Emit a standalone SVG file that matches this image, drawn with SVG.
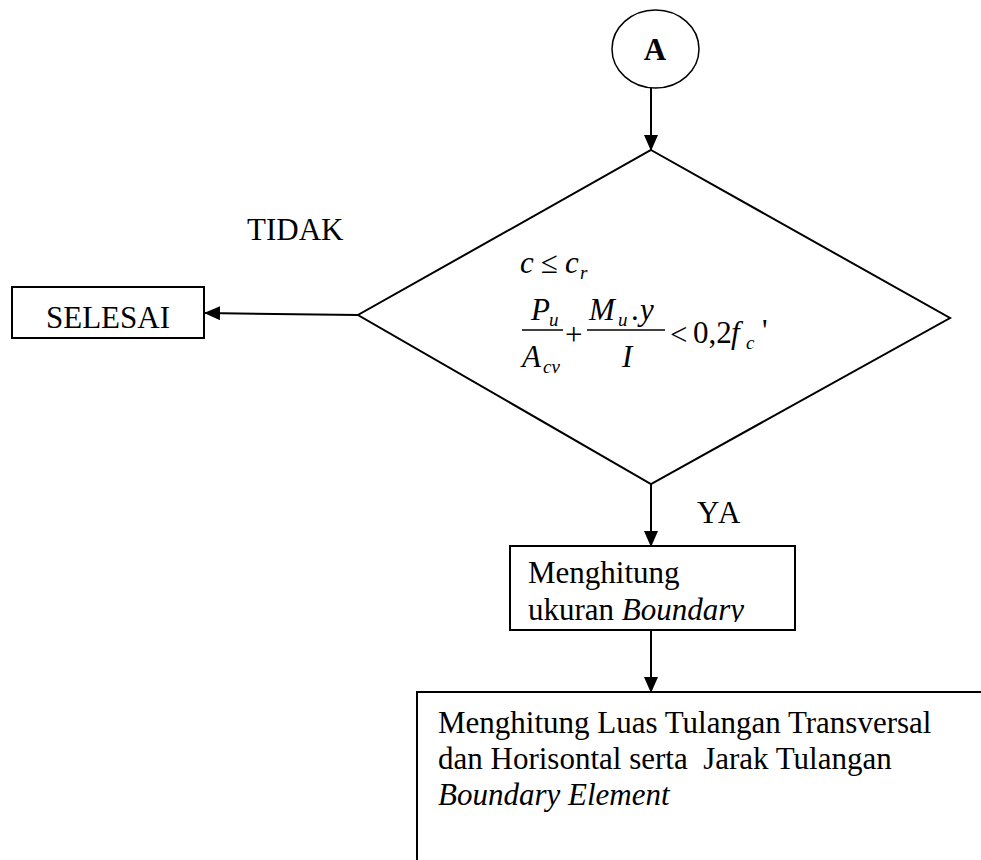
<svg xmlns="http://www.w3.org/2000/svg" width="981" height="860" viewBox="0 0 981 860">
<defs>
<marker id="ah" markerUnits="userSpaceOnUse" markerWidth="16" markerHeight="14" refX="15" refY="7" orient="auto"><path d="M0,0 L16,7 L0,14 Z" fill="#000"/></marker>
<clipPath id="clip2"><rect x="510" y="546" width="285" height="76"/></clipPath>
</defs>
<style>
.ln{stroke:#000;stroke-width:2;fill:none}
.bar{stroke:#000;stroke-width:1.5}
.t{font-family:"Liberation Serif","Times New Roman",serif;font-size:31px;fill:#000}
.i{font-style:italic}
.s{font-size:19px}
.c{stroke:#000;stroke-width:2;fill:none;marker-end:url(#ah)}
</style>
<rect width="981" height="860" fill="#fff"/>

<g id="connectors">
<line class="c" x1="651" y1="88" x2="651" y2="150"/>
<line class="c" x1="358" y1="315" x2="205" y2="313"/>
<line class="c" x1="651" y1="484" x2="651" y2="546"/>
<line class="c" x1="651" y1="630" x2="651" y2="692"/>
</g>

<g id="start">
<ellipse cx="655.5" cy="49" rx="43.5" ry="39" fill="none" stroke="#000" stroke-width="1.5"/>
<text x="655" y="60" text-anchor="middle" class="t" font-weight="bold" font-size="27">A</text>
</g>

<g id="decision">
<polygon points="651,150 950,318 651,484 358,315" class="ln"/>
<text class="t i" x="520" y="273">c</text>
<text class="t" x="541" y="273">≤</text>
<text class="t i" x="565" y="273">c</text>
<text class="t i s" x="580" y="279">r</text>
<text class="t i" x="531" y="320">P</text>
<text class="t i s" x="549" y="326">u</text>
<line class="bar" x1="522" y1="330" x2="563" y2="330"/>
<text class="t i" x="522" y="367">A</text>
<text class="t i s" x="543" y="373">cv</text>
<text class="t" x="565" y="345">+</text>
<text class="t i" x="589" y="320">M</text>
<text class="t i s" x="618" y="326">u</text>
<text class="t" x="631" y="320">.</text>
<text class="t i" x="640" y="320">y</text>
<line class="bar" x1="587" y1="330" x2="665" y2="330"/>
<text class="t i" x="622" y="367">I</text>
<text class="t" x="670" y="345">&lt;</text>
<text class="t" x="693" y="343">0,2</text>
<text class="t i" x="731" y="343">f</text>
<text class="t i s" x="746" y="349">c</text>
<text class="t" x="762" y="341">'</text>
</g>

<g id="selesai">
<rect x="12" y="287" width="192" height="51" class="ln"/>
<text class="t" x="108" y="328" text-anchor="middle">SELESAI</text>
</g>

<g id="boundary-size">
<rect x="510" y="546" width="285" height="84" class="ln"/>
<g clip-path="url(#clip2)">
<text class="t" x="528" y="583">Menghitung</text>
<text class="t" x="528" y="620">ukuran <tspan class="i">Boundary</tspan></text>
</g>
</g>

<g id="reinforcement">
<rect x="417" y="692" width="620" height="220" class="ln"/>
<text class="t" x="438" y="733">Menghitung Luas Tulangan Transversal</text>
<text class="t" x="438" y="769" xml:space="preserve">dan Horisontal serta  Jarak Tulangan</text>
<text class="t i" x="438" y="805">Boundary Element</text>
</g>

<g id="labels">
<text class="t" x="247" y="240">TIDAK</text>
<text class="t" x="697" y="523" letter-spacing="2">YA</text>
</g>
</svg>
